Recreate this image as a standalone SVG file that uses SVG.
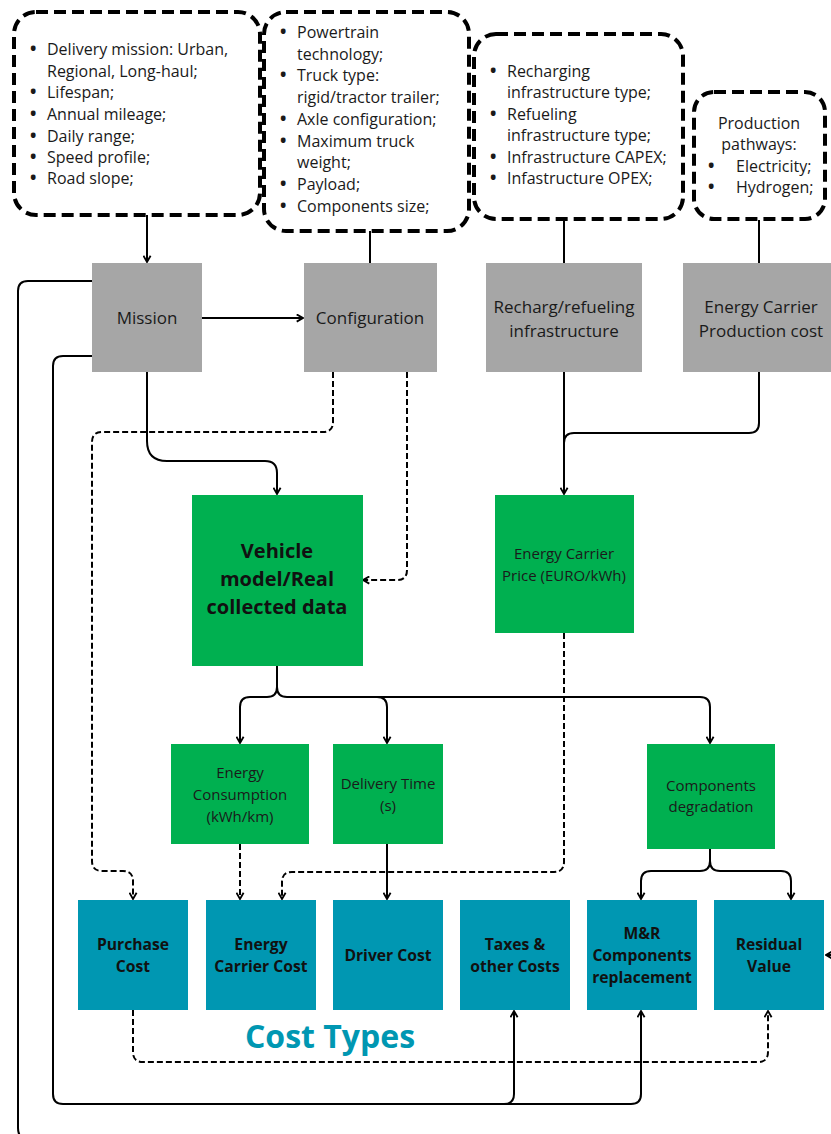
<svg xmlns="http://www.w3.org/2000/svg" width="831" height="1134" viewBox="0 0 831 1134">
<style>
.t{font-family:"Open Sans","Noto Sans","DejaVu Sans",sans-serif;fill:#1a1a1a}
.in{font-size:16px}
.bu{font-size:17px;font-weight:bold}
.gr{font-size:17px;text-anchor:middle}
.gn{font-size:15px;text-anchor:middle}
.tl{font-size:15.7px;font-weight:bold;text-anchor:middle;fill:#111}
.vb{font-size:20px;font-weight:bold;text-anchor:middle;fill:#111}
.ct{font-family:"Open Sans","Noto Sans","DejaVu Sans",sans-serif;font-size:32px;font-weight:bold;fill:#0097b2;text-anchor:middle}
.db{fill:#fff;stroke:#000;stroke-width:4;stroke-dasharray:12 6}
.g{fill:#a6a6a6}
.n{fill:#00b050}
.c{fill:#0097b2}
.l{fill:none;stroke:#000;stroke-width:2}
.d{fill:none;stroke:#000;stroke-width:2;stroke-dasharray:6 3}
</style>
<defs>
<marker id="ah" viewBox="0 0 10 10" refX="9" refY="5" markerWidth="9" markerHeight="9" markerUnits="userSpaceOnUse" orient="auto">
<path d="M2,1 L9,5 L2,9" fill="none" stroke="#000" stroke-width="2"/>
</marker>
</defs>
<rect width="831" height="1134" fill="#fff"/>

<g id="connectors">
<path class="l" d="M147,215 V262" marker-end="url(#ah)"/>
<path class="l" d="M370,231 V263"/>
<path class="l" d="M564,220 V263"/>
<path class="l" d="M759,220 V263"/>
<path class="l" d="M202,318 H303" marker-end="url(#ah)"/>
<path class="l" d="M147,372 V441 Q147,461 167,461 H265 Q277,461 277,473 V494" marker-end="url(#ah)"/>
<path class="d" d="M407,372 V570 Q407,580 397,580 H363" marker-end="url(#ah)"/>
<path class="d" d="M333,372 V422 Q333,432 323,432 H102 Q92,432 92,442 V861 Q92,871 102,871 H123 Q133,871 133,881 V899" marker-end="url(#ah)"/>
<path class="l" d="M564,372 V494" marker-end="url(#ah)"/>
<path class="l" d="M759,372 V423 Q759,433 749,433 H574 Q564,433 564,443"/>
<path class="d" d="M564,633 V862 Q564,872 554,872 H292 Q282,872 282,882 V899" marker-end="url(#ah)"/>
<path class="l" d="M277,666 V687 Q277,697 287,697 H700 Q710,697 710,707 V743" marker-end="url(#ah)"/>
<path class="l" d="M277,687 Q277,697 267,697 H250 Q240,697 240,707 V743" marker-end="url(#ah)"/>
<path class="l" d="M287,697 H377 Q387,697 387,707 V743" marker-end="url(#ah)"/>
<path class="d" d="M240,844 V899" marker-end="url(#ah)"/>
<path class="l" d="M387,844 V899" marker-end="url(#ah)"/>
<path class="l" d="M710,849 V861 Q710,871 700,871 H651 Q641,871 641,881 V899" marker-end="url(#ah)"/>
<path class="l" d="M710,861 Q710,871 720,871 H781 Q791,871 791,881 V899" marker-end="url(#ah)"/>
<path class="d" d="M133,1010 V1052 Q133,1062 143,1062 H758 Q768,1062 768,1052 V1011" marker-end="url(#ah)"/>
<path class="l" d="M92,356 H63 Q53,356 53,366 V1094 Q53,1104 63,1104 H504 Q514,1104 514,1094 V1011" marker-end="url(#ah)"/>
<path class="l" d="M500,1104 H631 Q641,1104 641,1094 V1011" marker-end="url(#ah)"/>
<path class="l" d="M92,281 H28 Q18,281 18,291 V1128 Q18,1140 30,1140 H850 V965 Q850,955 840,955 H826" marker-end="url(#ah)"/>
</g>

<g id="mission-params">
<rect class="db" x="14" y="12" width="246" height="203" rx="22"/>
<g class="t in">
<text class="bu" x="30" y="55">•</text><text x="47" y="55">Delivery mission: Urban,</text>
<text x="47" y="77">Regional, Long-haul;</text>
<text class="bu" x="30" y="98">•</text><text x="47" y="98">Lifespan;</text>
<text class="bu" x="30" y="120">•</text><text x="47" y="120">Annual mileage;</text>
<text class="bu" x="30" y="142">•</text><text x="47" y="142">Daily range;</text>
<text class="bu" x="30" y="163">•</text><text x="47" y="163">Speed profile;</text>
<text class="bu" x="30" y="184">•</text><text x="47" y="184">Road slope;</text>
</g>
</g>

<g id="config-params">
<rect class="db" x="264" y="12" width="205" height="219" rx="22"/>
<g class="t in">
<text class="bu" x="280" y="38">•</text><text x="297" y="38">Powertrain</text>
<text x="297" y="60">technology;</text>
<text class="bu" x="280" y="81">•</text><text x="297" y="81">Truck type:</text>
<text x="297" y="103">rigid/tractor trailer;</text>
<text class="bu" x="280" y="125">•</text><text x="297" y="125">Axle configuration;</text>
<text class="bu" x="280" y="147">•</text><text x="297" y="147">Maximum truck</text>
<text x="297" y="168">weight;</text>
<text class="bu" x="280" y="190">•</text><text x="297" y="190">Payload;</text>
<text class="bu" x="280" y="212">•</text><text x="297" y="212">Components size;</text>
</g>
</g>

<g id="infra-params">
<rect class="db" x="474" y="34" width="209" height="185" rx="22"/>
<g class="t in">
<text class="bu" x="490" y="77">•</text><text x="507" y="77">Recharging</text>
<text x="507" y="98">infrastructure type;</text>
<text class="bu" x="490" y="120">•</text><text x="507" y="120">Refueling</text>
<text x="507" y="141">infrastructure type;</text>
<text class="bu" x="490" y="163">•</text><text x="507" y="163">Infrastructure CAPEX;</text>
<text class="bu" x="490" y="184">•</text><text x="507" y="184">Infastructure OPEX;</text>
</g>
</g>

<g id="production-params">
<rect class="db" x="694" y="92" width="131" height="127" rx="20"/>
<g class="t in">
<text x="759" y="129" text-anchor="middle">Production</text>
<text x="759" y="150" text-anchor="middle">pathways:</text>
<text class="bu" x="708" y="172">•</text><text x="736" y="172">Electricity;</text>
<text class="bu" x="708" y="193">•</text><text x="736" y="193">Hydrogen;</text>
</g>
</g>

<g id="mission"><rect class="g" x="92" y="263" width="110" height="109"/><text class="t gr" x="147" y="324">Mission</text></g>
<g id="configuration"><rect class="g" x="304" y="263" width="133" height="109"/><text class="t gr" x="370" y="324">Configuration</text></g>
<g id="infrastructure"><rect class="g" x="486" y="263" width="156" height="109"/><text class="t gr" x="564" y="313">Recharg/refueling</text><text class="t gr" x="564" y="337">infrastructure</text></g>
<g id="production-cost"><rect class="g" x="683" y="263" width="148" height="109"/><text class="t gr" x="761" y="313">Energy Carrier</text><text class="t gr" x="761" y="337">Production cost</text></g>

<g id="vehicle-model"><rect class="n" x="192" y="495" width="171" height="171"/>
<text class="t vb" x="277" y="558">Vehicle</text><text class="t vb" x="277" y="586">model/Real</text><text class="t vb" x="277" y="614">collected data</text></g>
<g id="energy-price"><rect class="n" x="495" y="495" width="139" height="138"/>
<text class="t gn" x="564" y="559">Energy Carrier</text><text class="t gn" x="564" y="581">Price (EURO/kWh)</text></g>
<g id="energy-consumption"><rect class="n" x="171" y="744" width="138" height="100"/>
<text class="t gn" x="240" y="778">Energy</text><text class="t gn" x="240" y="800">Consumption</text><text class="t gn" x="240" y="822">(kWh/km)</text></g>
<g id="delivery-time"><rect class="n" x="333" y="744" width="110" height="100"/>
<text class="t gn" x="388" y="789">Delivery Time</text><text class="t gn" x="388" y="811">(s)</text></g>
<g id="components-degradation"><rect class="n" x="647" y="744" width="128" height="105"/>
<text class="t gn" x="711" y="791">Components</text><text class="t gn" x="711" y="812">degradation</text></g>

<g id="purchase-cost"><rect class="c" x="78" y="900" width="110" height="110"/>
<text class="t tl" x="133" y="950">Purchase</text><text class="t tl" x="133" y="972">Cost</text></g>
<g id="energy-carrier-cost"><rect class="c" x="206" y="900" width="110" height="110"/>
<text class="t tl" x="261" y="950">Energy</text><text class="t tl" x="261" y="972">Carrier Cost</text></g>
<g id="driver-cost"><rect class="c" x="333" y="900" width="110" height="110"/>
<text class="t tl" x="388" y="961">Driver Cost</text></g>
<g id="taxes"><rect class="c" x="460" y="900" width="110" height="110"/>
<text class="t tl" x="515" y="950">Taxes &amp;</text><text class="t tl" x="515" y="972">other Costs</text></g>
<g id="mr"><rect class="c" x="587" y="900" width="110" height="110"/>
<text class="t tl" x="642" y="939">M&amp;R</text><text class="t tl" x="642" y="961">Components</text><text class="t tl" x="642" y="983">replacement</text></g>
<g id="residual"><rect class="c" x="714" y="900" width="110" height="110"/>
<text class="t tl" x="769" y="950">Residual</text><text class="t tl" x="769" y="972">Value</text></g>

<text class="ct" x="330" y="1048">Cost Types</text>
</svg>
